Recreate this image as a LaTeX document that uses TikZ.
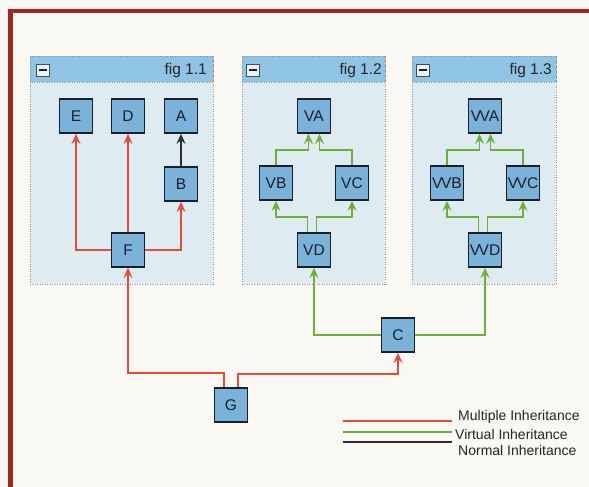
\documentclass[tikz,border=0pt]{standalone}
\usepackage{fontspec}
\setmainfont{Liberation Sans}
\usetikzlibrary{arrows.meta,calc}
\definecolor{bgcream}{RGB}{250,248,242}
\definecolor{framered}{RGB}{158,40,30}
\definecolor{panelbody}{RGB}{222,236,241}
\definecolor{titlebar}{RGB}{143,196,228}
\definecolor{nodefill}{RGB}{122,178,218}
\definecolor{nodeline}{RGB}{28,30,40}
\definecolor{multred}{RGB}{232,72,62}
\definecolor{virtgreen}{RGB}{108,176,60}
\definecolor{normblack}{RGB}{45,45,45}
\definecolor{dotgray}{RGB}{140,150,158}
\tikzset{
  cls/.style={draw=nodeline, line width=1.7pt, fill=nodefill, minimum width=33pt, minimum height=34pt, inner sep=0pt, font=\fontsize{15.5}{17}\selectfont, text=nodeline},
  tip/.style={-{Stealth[length=10pt,width=9pt,inset=3.5pt]}},
  multi/.style={draw=multred, line width=1.8pt, tip},
  virt/.style={draw=virtgreen, line width=1.8pt, tip},
  norm/.style={draw=normblack, line width=1.8pt, tip},
  panelbox/.style={fill=panelbody, draw=dotgray, line width=0.9pt, dash pattern=on 1pt off 1.5pt},
  barbox/.style={fill=titlebar, draw=dotgray, line width=0.9pt, dash pattern=on 1pt off 1.5pt},
  minusbox/.style={draw=nodeline!80, fill=white!80!titlebar, line width=1pt, minimum width=13pt, minimum height=12pt, inner sep=0pt},
  titletext/.style={anchor=east, font=\fontsize{15.5}{17}\selectfont, text=black!85, inner sep=0pt},
  legtext/.style={anchor=west, font=\fontsize{14}{16}\selectfont, text=black!85, inner sep=0pt}
}
\begin{document}
\begin{tikzpicture}[x=1pt,y=-1pt]
\useasboundingbox (0,0) rectangle (589,487);
\fill[bgcream] (0,0) rectangle (589,487);
\draw[framered, line width=4.5pt] (10.5,11) rectangle (600,500);
% panels
\foreach \l/\r/\t in {30/213/fig 1.1, 242/385/fig 1.2, 412/556/fig 1.3}{
  \draw[panelbox] (\l,56) rectangle (\r,284);
  \draw[barbox] (\l,56) rectangle (\r,82);
}
\node[titletext] (t1) at (207,70) {fig 1.1};
\node[titletext] (t2) at (382,70) {fig 1.2};
\node[titletext] (t3) at (552,70) {fig 1.3};
\foreach \n/\x in {m1/43, m2/253, m3/423}{
  \node[minusbox] (\n) at (\x,70.5) {};
  \draw[nodeline, line width=2pt] ($(\n.center)+(-4,0)$) -- ($(\n.center)+(4,0)$);
}
% fig 1.1
\node[cls] (E) at (76,116) {E};
\node[cls] (D) at (128,116) {D};
\node[cls] (A) at (181,116) {A};
\node[cls] (B) at (181,184) {B};
\node[cls] (F) at (128,250) {F};
% fig 1.2
\node[cls] (VA) at (314,116) {VA};
\node[cls] (VB) at (276,183) {VB};
\node[cls] (VC) at (352,183) {VC};
\node[cls] (VD) at (314,250) {VD};
% fig 1.3
\node[cls] (VVA) at (485,116) {V\kern-1.5pt VA};
\node[cls] (VVB) at (447,183) {V\kern-1.5pt VB};
\node[cls] (VVC) at (523,183) {V\kern-1.5pt VC};
\node[cls] (VVD) at (485,250) {V\kern-1.5pt VD};
% others
\node[cls] (C) at (398,335) {C};
\node[cls] (G) at (231,405) {G};
% connectors fig 1.1
\draw[multi] (F.west) -| (E.south);
\draw[multi] (F.north) -- (D.south);
\draw[multi] (F.east) -| (B.south);
\draw[norm] (B.north) -- (A.south);
% fig 1.2 / 1.3
\foreach \a/\b/\c/\d in {VA/VB/VC/VD, VVA/VVB/VVC/VVD}{
  \draw[virt] (\b.north) |- ($(\a.south)+(-5.5,16)$) -- ($(\a.south)+(-5.5,0)$);
  \draw[virt] (\c.north) |- ($(\a.south)+(5.5,16)$) -- ($(\a.south)+(5.5,0)$);
  \draw[virt] ($(\d.north)+(-6.5,0)$) |- ($(\b.south)+(0,16.5)$) -- (\b.south);
  \draw[virt] ($(\d.north)+(2.5,0)$) |- ($(\c.south)+(0,16.5)$) -- (\c.south);
}
% bottom
\draw[virt] (C.west) -| (VD.south);
\draw[virt] (C.east) -| (VVD.south);
\draw[multi] ($(G.north)+(-7,0)$) |- ($(F.south)+(0,105)$) -- (F.south);
\draw[multi] ($(G.north)+(7,0)$) |- ($(C.south)+(0,21)$) -- (C.south);
% legend
\coordinate (l1a) at (343,421); \coordinate (l1b) at (452,421);
\coordinate (l2a) at (343,432); \coordinate (l2b) at (452,432);
\coordinate (l3a) at (343,442); \coordinate (l3b) at (452,442);
\draw[multred, line width=1.5pt] (l1a) -- (l1b);
\draw[virtgreen, line width=1.5pt] (l2a) -- (l2b);
\draw[normblack, line width=1.3pt] (l3a) -- (l3b);
\node[legtext] (lt1) at (458,417) {Multiple Inheritance};
\node[legtext] (lt2) at (455,434) {Virtual Inheritance};
\node[legtext] (lt3) at (458,450.5) {Normal Inheritance};
\end{tikzpicture}
\end{document}
